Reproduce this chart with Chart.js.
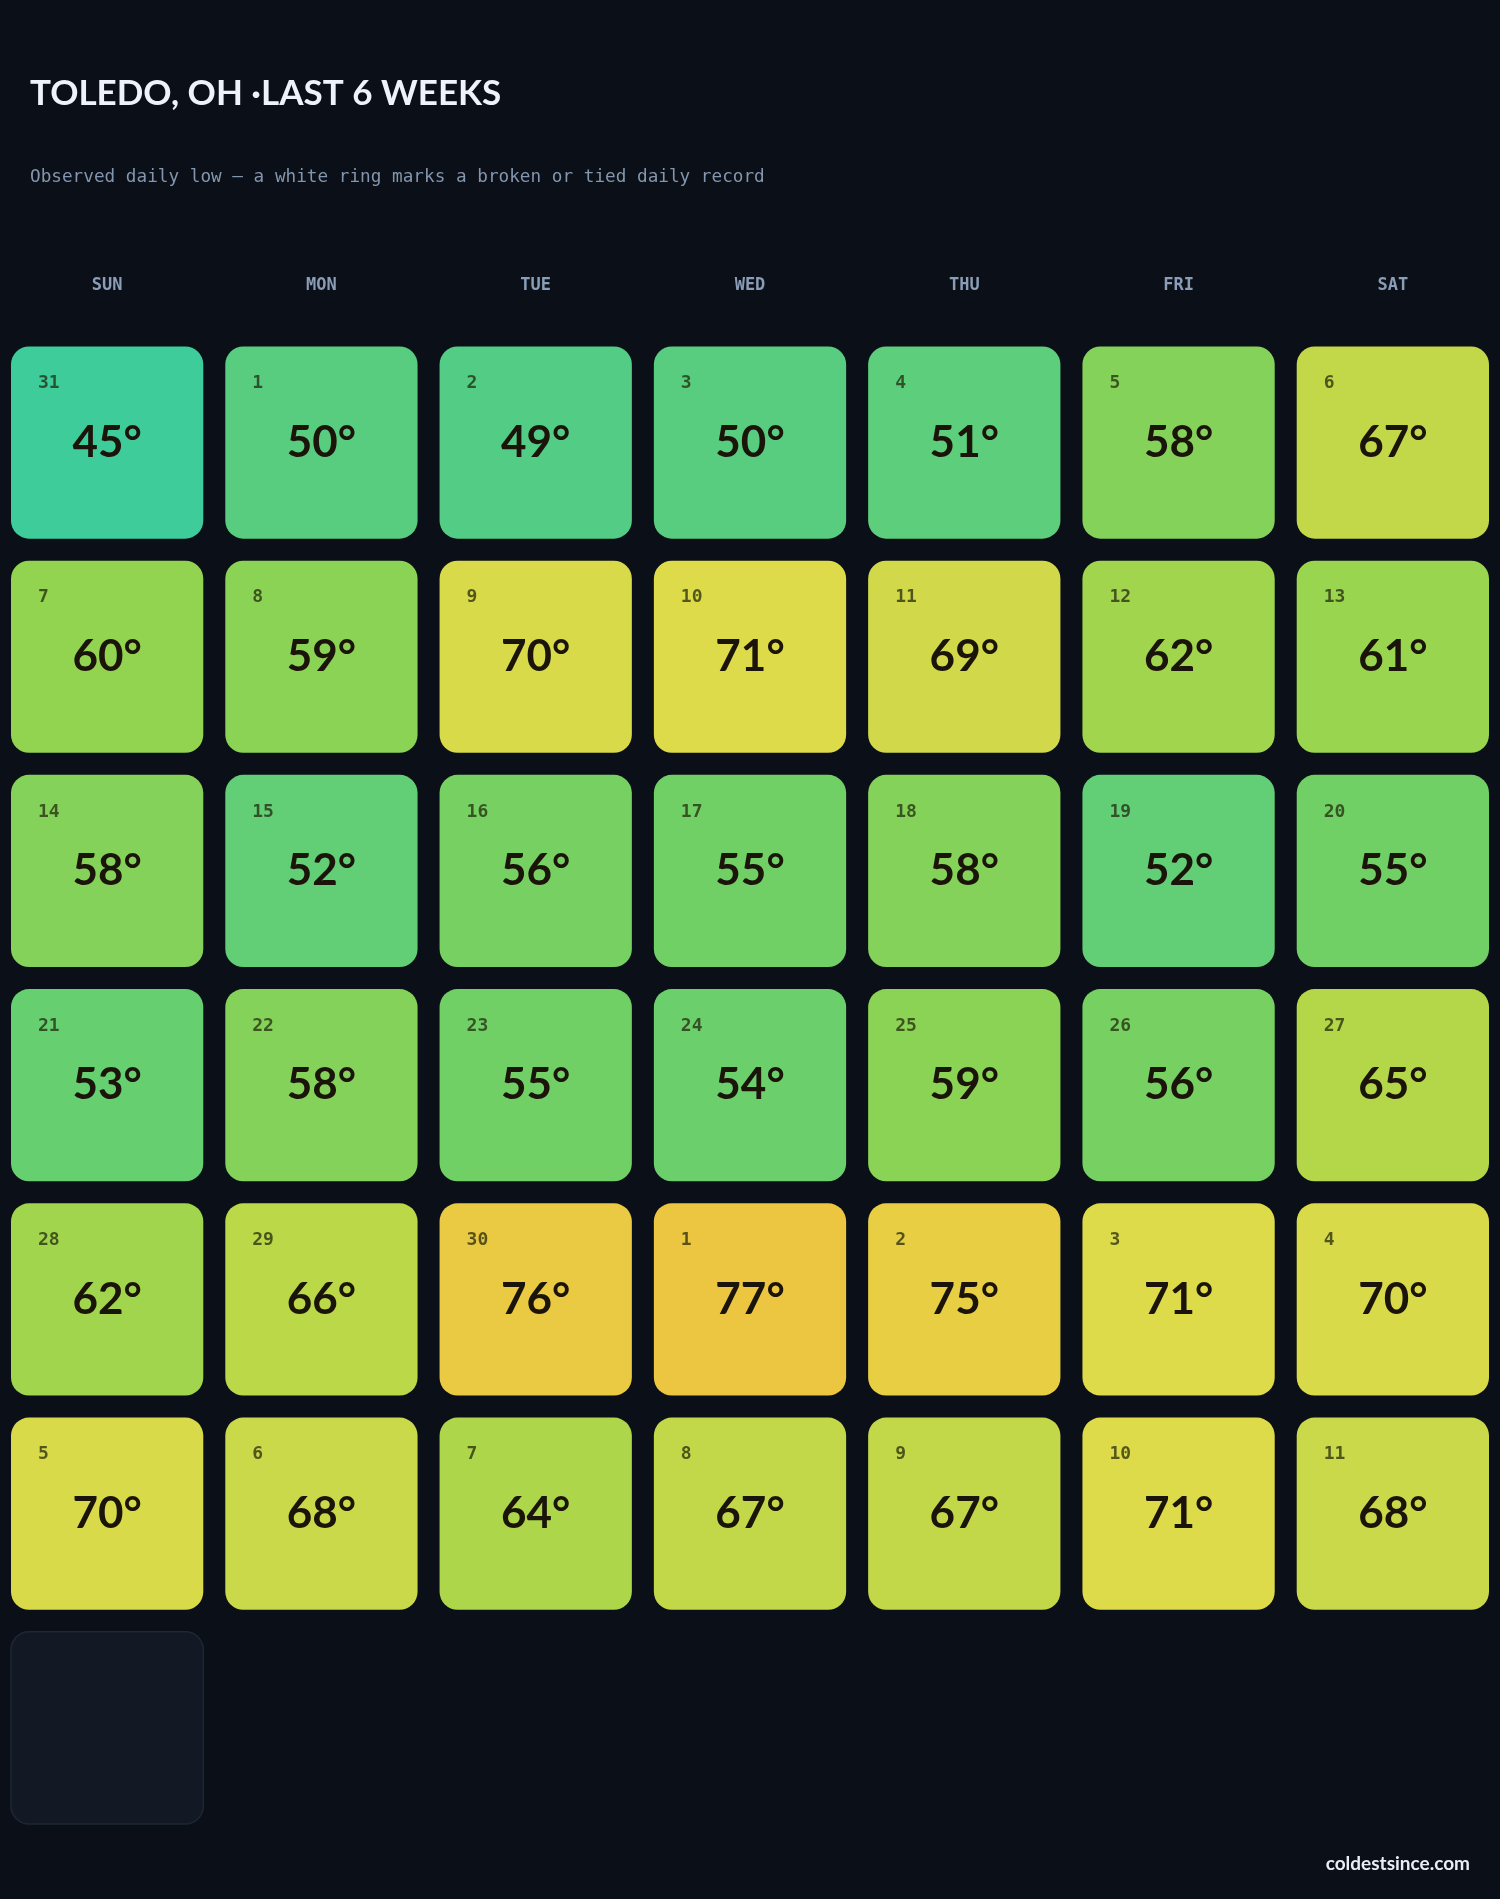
<!DOCTYPE html>
<html>
<head>
<meta charset="utf-8">
<script src="https://cdn.jsdelivr.net/npm/chart.js@4.4.1/dist/chart.umd.min.js"></script>
<style>
  html, body { margin: 0; padding: 0; background: #0b0f17; }
  #wrap { width: 1500px; height: 1899px; position: relative; }
</style>
</head>
<body>
<div id="wrap"><canvas id="calChart" width="1500" height="1899"></canvas></div>
<script>
// calendar data
const weekdays = ["SUN", "MON", "TUE", "WED", "THU", "FRI", "SAT"];
const dayNumbers = [
    31, 1, 2, 3, 4, 5, 6,
    7, 8, 9, 10, 11, 12, 13,
    14, 15, 16, 17, 18, 19, 20,
    21, 22, 23, 24, 25, 26, 27,
    28, 29, 30, 1, 2, 3, 4,
    5, 6, 7, 8, 9, 10, 11,
    null
];
const lows = [
    45, 50, 49, 50, 51, 58, 67,
    60, 59, 70, 71, 69, 62, 61,
    58, 52, 56, 55, 58, 52, 55,
    53, 58, 55, 54, 59, 56, 65,
    62, 66, 76, 77, 75, 71, 70,
    70, 68, 64, 67, 67, 71, 68,
    null
];
const records = []; // no broken/tied records in this period

const title = "TOLEDO, OH ·LAST 6 WEEKS";
const subtitle = "Observed daily low — a white ring marks a broken or tied daily record";
const footer = "coldestsince.com";

// colour ramp for the low temperature
const rampStops = [
    [45, [62, 204, 154]],
    [50, [88, 205, 128]],
    [55, [112, 208, 102]],
    [60, [146, 212, 80]],
    [65, [180, 215, 73]],
    [70, [216, 218, 74]],
    [72, [226, 219, 72]],
    [77, [236, 198, 64]]
];

function tempColor(t) {
    if (t <= rampStops[0][0]) return "rgb(" + rampStops[0][1].join(",") + ")";
    for (let i = 1; i < rampStops.length; i++) {
        const [t1, c1] = rampStops[i];
        const [t0, c0] = rampStops[i - 1];
        if (t <= t1) {
            const f = (t - t0) / (t1 - t0);
            const c = c0.map((v, k) => Math.round(v + (c1[k] - v) * f));
            return "rgb(" + c.join(",") + ")";
        }
    }
    return "rgb(" + rampStops[rampStops.length - 1][1].join(",") + ")";
}

const points = dayNumbers.map((d, i) => ({
    x: weekdays[i % 7],
    y: Math.floor(i / 7),
    day: d,
    low: lows[i]
}));

function roundRect(ctx, x, y, w, h, r) {
    ctx.beginPath();
    ctx.moveTo(x + r, y);
    ctx.arcTo(x + w, y, x + w, y + h, r);
    ctx.arcTo(x + w, y + h, x, y + h, r);
    ctx.arcTo(x, y + h, x, y, r);
    ctx.arcTo(x, y, x + w, y, r);
    ctx.closePath();
}

const cellPlugin = {
    id: "cells",
    afterDatasetsDraw(chart) {
        const ctx = chart.ctx;
        const xs = chart.scales.x;
        const ys = chart.scales.y;
        const bandW = Math.abs(xs.getPixelForValue(1) - xs.getPixelForValue(0));
        const bandH = Math.abs(ys.getPixelForValue(1) - ys.getPixelForValue(0));
        const gap = 22;
        const w = bandW - gap, h = bandH - gap;
        const meta = chart.getDatasetMeta(0);
        ctx.save();
        meta.data.forEach((el, i) => {
            const p = points[i];
            const left = el.x - w / 2, top = el.y - h / 2;
            roundRect(ctx, left, top, w, h, 18);
            if (p.low === null) {
                ctx.fillStyle = "#121924";
                ctx.fill();
                ctx.lineWidth = 1.5;
                ctx.strokeStyle = "#1d2835";
                ctx.stroke();
                return;
            }
            ctx.fillStyle = tempColor(p.low);
            ctx.fill();
            if (records.includes(i)) {
                ctx.lineWidth = 4;
                ctx.strokeStyle = "#ffffff";
                ctx.stroke();
            }
            ctx.fillStyle = "rgba(30, 35, 10, 0.72)";
            ctx.font = "bold 18px 'DejaVu Sans Mono'";
            ctx.textAlign = "left";
            ctx.textBaseline = "top";
            ctx.fillText(String(p.day), left + 27, top + 28);

            ctx.fillStyle = "#1b140a";
            ctx.font = "bold 44px Lato";
            ctx.textAlign = "center";
            ctx.textBaseline = "middle";
            ctx.fillText(p.low + "°", el.x, el.y);
        });
        ctx.restore();
    }
};

const textPlugin = {
    id: "texts",
    beforeDraw(chart) {
        const ctx = chart.ctx;
        ctx.save();
        ctx.fillStyle = "#0b0f17";
        ctx.fillRect(0, 0, chart.width, chart.height);
        ctx.fillStyle = "#eef3fb";
        ctx.font = "bold 35px Lato";
        ctx.textAlign = "left";
        ctx.textBaseline = "alphabetic";
        ctx.fillText(title, 30, 105);

        ctx.fillStyle = "#8396ad";
        ctx.font = "17.7px 'DejaVu Sans Mono'";
        ctx.textBaseline = "middle";
        ctx.fillText(subtitle, 30, 177);

        ctx.fillStyle = "#e8eef6";
        ctx.font = "bold 19px Lato";
        ctx.textAlign = "right";
        ctx.fillText(footer, 1470, 1864);
        ctx.restore();
    }
};

const ctx = document.getElementById("calChart").getContext("2d");
new Chart(ctx, {
    type: "scatter",
    data: {
        labels: weekdays,
        datasets: [{
            data: points,
            pointRadius: 0,
            pointHoverRadius: 0
        }]
    },
    options: {
        responsive: false,
        animation: false,
        events: [],
        layout: { padding: { left: 0, right: 0, top: 235, bottom: 64 } },
        scales: {
            x: {
                type: "category",
                labels: weekdays,
                position: "top",
                offset: true,
                grid: { display: false, drawTicks: false, tickLength: 0 },
                border: { display: false },
                ticks: {
                    color: "#8a9cb6",
                    font: { family: "DejaVu Sans Mono", size: 17, weight: "bold" },
                    padding: 40
                }
            },
            y: {
                type: "linear",
                display: false,
                reverse: true,
                min: -0.5,
                max: 6.5
            }
        },
        plugins: {
            legend: { display: false },
            tooltip: { enabled: false }
        }
    },
    plugins: [textPlugin, cellPlugin]
});
</script>
</body>
</html>
